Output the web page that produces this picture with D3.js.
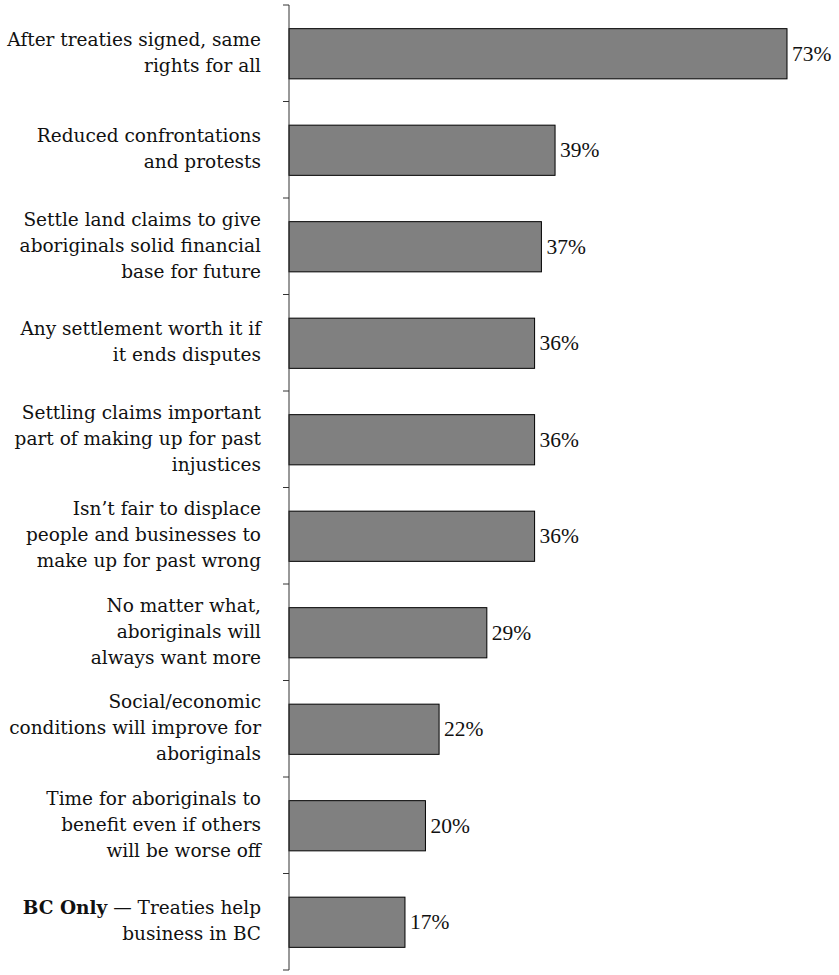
<!DOCTYPE html>
<html>
<head>
<meta charset="utf-8">
<script src="https://cdn.jsdelivr.net/npm/d3@7"></script>
<style>
	body { margin: 0; background: #fff; }
	svg text { fill: #111; }
	.cat { font-family: "DejaVu Serif", serif; font-size: 18.5px; }
	.val { font-family: "Liberation Serif", serif; font-size: 21.5px; }
</style>
</head>
<body>
<svg id="chart" width="839" height="975"></svg>
<script>
// each category is a list of lines; "**" marks a bold lead-in
let categories = [
	["After treaties signed, same", "rights for all"],
	["Reduced confrontations", "and protests"],
	["Settle land claims to give", "aboriginals solid financial", "base for future"],
	["Any settlement worth it if", "it ends disputes"],
	["Settling claims important", "part of making up for past", "injustices"],
	["Isn\u2019t fair to displace", "people and businesses to", "make up for past wrong"],
	["No matter what,", "aboriginals will", "always want more"],
	["Social/economic", "conditions will improve for", "aboriginals"],
	["Time for aboriginals to", "benefit even if others", "will be worse off"],
	["**BC Only** \u2014 Treaties help", "business in BC"]
]
let values = [73, 39, 37, 36, 36, 36, 29, 22, 20, 17]

let svg = d3.select('#chart')
let axisX = 289
let y0 = 5, y1 = 970

let y = d3.scaleBand().domain(d3.range(values.length)).range([y0, y1]).paddingInner(0.48).paddingOuter(0.24)
let x = d3.scaleLinear().domain([0, 73]).range([axisX, 787])

// bars
svg.selectAll('rect.bar').data(values).enter().append('rect')
	.attr('class', 'bar')
	.attr('x', x(0))
	.attr('y', (d, i) => y(i) + 0.5)
	.attr('width', d => x(d) - x(0))
	.attr('height', y.bandwidth())
	.attr('fill', '#808080')
	.attr('stroke', '#000')
	.attr('stroke-width', 1)

// value labels
svg.selectAll('text.val').data(values).enter().append('text')
	.attr('class', 'val')
	.attr('x', d => x(d) + 5)
	.attr('y', (d, i) => y(i) + y.bandwidth() / 2 + 7.5)
	.text(d => d + '%')

// axis line with ticks at band boundaries
let step = (y1 - y0) / values.length
let ticks = d3.range(values.length + 1).map(i => y0 + i * step)
svg.append('line')
	.attr('x1', axisX).attr('x2', axisX)
	.attr('y1', y0).attr('y2', y1)
	.attr('stroke', '#333').attr('stroke-width', 1)
svg.selectAll('line.tick').data(ticks).enter().append('line')
	.attr('class', 'tick')
	.attr('x1', axisX - 6).attr('x2', axisX)
	.attr('y1', d => d).attr('y2', d => d)
	.attr('stroke', '#333').attr('stroke-width', 1)

// category labels
let lineH = 26
categories.forEach((lines, i) => {
	let cy = y(i) + y.bandwidth() / 2
	let t = svg.append('text').attr('class', 'cat').attr('text-anchor', 'end')
	lines.forEach((ln, j) => {
		let yy = cy + (j - (lines.length - 1) / 2) * lineH + 5.5
		let m = ln.match(/^\*\*(.+?)\*\*(.*)$/)
		if (m) {
			let ts = t.append('tspan').attr('x', 261).attr('y', yy)
			ts.append('tspan').attr('font-weight', 'bold').text(m[1])
			t.append('tspan').text(m[2])
		} else {
			t.append('tspan').attr('x', 261).attr('y', yy).text(ln)
		}
	})
})
</script>
</body>
</html>
